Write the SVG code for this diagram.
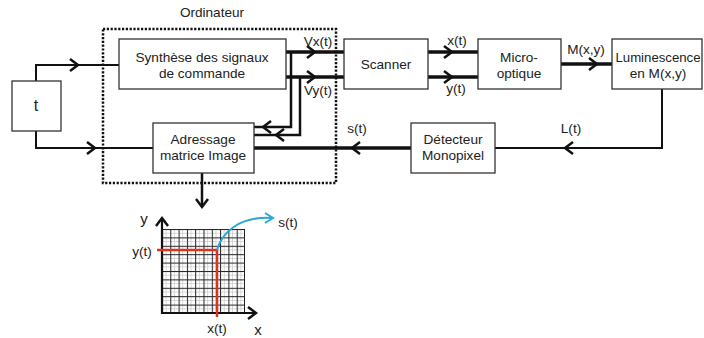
<svg xmlns="http://www.w3.org/2000/svg" width="704" height="338" viewBox="0 0 704 338">
<style>
text{font-family:"Liberation Sans",Arial,sans-serif;font-size:13.6px;fill:#222;text-anchor:middle}
.box{fill:#fff;stroke:#333;stroke-width:1.3}
.thin{fill:none;stroke:#111;stroke-width:2}
.thick{fill:none;stroke:#111;stroke-width:3.5}
.mid{fill:none;stroke:#111;stroke-width:2.5}
.ah{fill:none;stroke:#111;stroke-width:2.5;stroke-linejoin:miter}
.g1{stroke:#222;stroke-width:1}
.g2{stroke:#c8c8c8;stroke-width:0.7}
</style>
<defs>
<pattern id="grid" x="162" y="229" width="8.3" height="8.4" patternUnits="userSpaceOnUse">
<rect width="8.3" height="8.4" fill="#fff"/>
<line class="g2" x1="4.15" y1="0" x2="4.15" y2="8.4"/>
<line class="g2" x1="0" y1="4.2" x2="8.3" y2="4.2"/>
<line class="g1" x1="0.5" y1="0" x2="0.5" y2="8.4"/>
<line class="g1" x1="0" y1="0.5" x2="8.3" y2="0.5"/>
</pattern>
</defs>
<rect width="704" height="338" fill="#fff"/>
<g id="connectors">
<polyline class="thin" points="36,81 36,65 119,65"/>
<path class="ah" d="M70,59 L78,65 L70,71"/>
<polyline class="thin" points="36,131 36,148 153,148"/>
<path class="ah" d="M87,142 L95,148 L87,154"/>
<line class="thick" x1="286" y1="52" x2="344" y2="52"/>
<path class="ah" d="M307,46 L315,52 L307,58"/>
<line class="thick" x1="286" y1="77" x2="344" y2="77"/>
<path class="ah" d="M307,71 L315,77 L307,83"/>
<polyline class="mid" points="291,52 291,127 254,127"/>
<path class="ah" d="M271,121 L263,127 L271,133"/>
<polyline class="mid" points="300,77 300,135 254,135"/>
<path class="ah" d="M284,129 L276,135 L284,141"/>
<line class="thick" x1="411" y1="148" x2="254" y2="148"/>
<path class="ah" d="M360,142 L352,148 L360,154"/>
<line class="thick" x1="428" y1="52" x2="478" y2="52"/>
<path class="ah" d="M444,46 L452,52 L444,58"/>
<line class="thick" x1="428" y1="77" x2="478" y2="77"/>
<path class="ah" d="M444,71 L452,77 L444,83"/>
<line class="thick" x1="561" y1="64" x2="612" y2="64"/>
<path class="ah" d="M589,58 L597,64 L589,70"/>
<polyline class="thin" points="662,89 662,148 495,148"/>
<path class="ah" d="M573,142 L565,148 L573,154"/>
<line class="mid" x1="202" y1="173" x2="202" y2="207"/>
<path class="ah" d="M196,199 L202,207 L208,199"/>
</g>
<g id="ordinateur">
<rect x="103" y="29" width="233" height="154" fill="none" stroke="#111" stroke-width="2.5" stroke-dasharray="2.2 1.6"/>
<text x="212" y="17">Ordinateur</text>
</g>
<g id="t"><rect class="box" x="12" y="81" width="49" height="50"/><text x="36" y="111" style="font-size:16px">t</text></g>
<g id="synthese"><rect class="box" x="119" y="39" width="167" height="50"/><text x="202" y="62">Synthèse des signaux</text><text x="202" y="78">de commande</text></g>
<g id="adressage"><rect class="box" x="153" y="123" width="101" height="50"/><text x="203" y="144">Adressage</text><text x="203" y="160">matrice Image</text></g>
<g id="scanner"><rect class="box" x="344" y="39" width="84" height="50"/><text x="386" y="69">Scanner</text></g>
<g id="micro"><rect class="box" x="478" y="39" width="83" height="50"/><text x="519" y="62">Micro-</text><text x="519" y="78">optique</text></g>
<g id="lum"><rect class="box" x="612" y="39" width="90" height="50"/><text x="658" y="62" style="font-size:13.2px">Luminescence</text><text x="658" y="78">en M(x,y)</text></g>
<g id="detecteur"><rect class="box" x="411" y="123" width="84" height="50"/><text x="453" y="144">Détecteur</text><text x="453" y="160">Monopixel</text></g>
<g id="labels">
<text x="318" y="46">Vx(t)</text>
<text x="318" y="95">Vy(t)</text>
<text x="457" y="45">x(t)</text>
<text x="456" y="93">y(t)</text>
<text x="586" y="54">M(x,y)</text>
<text x="571" y="133">L(t)</text>
<text x="357" y="133">s(t)</text>
</g>
<g id="matrice">
<rect x="162" y="229" width="83" height="84" fill="url(#grid)"/>
<line class="g1" x1="244.5" y1="229" x2="244.5" y2="313"/>
<polyline fill="none" stroke="#111" stroke-width="2.2" points="162,218 162,313 256,313"/>
<path class="ah" d="M156,226 L162,218 L168,226"/>
<path class="ah" d="M248,307 L256,313 L248,319"/>
<polyline fill="none" stroke="#e03020" stroke-width="2.5" points="157,250 217,250 217,317"/>
<path fill="none" stroke="#2aa6d8" stroke-width="2" d="M217,250 C222,232 240,216 272,218"/>
<path fill="none" stroke="#2aa6d8" stroke-width="2" d="M265,213 L273,218 L265,223"/>
<text x="144" y="224" style="font-size:15px">y</text>
<text x="142" y="256">y(t)</text>
<text x="288" y="227">s(t)</text>
<text x="217" y="333">x(t)</text>
<text x="258" y="335" style="font-size:15px">x</text>
</g>
</svg>
